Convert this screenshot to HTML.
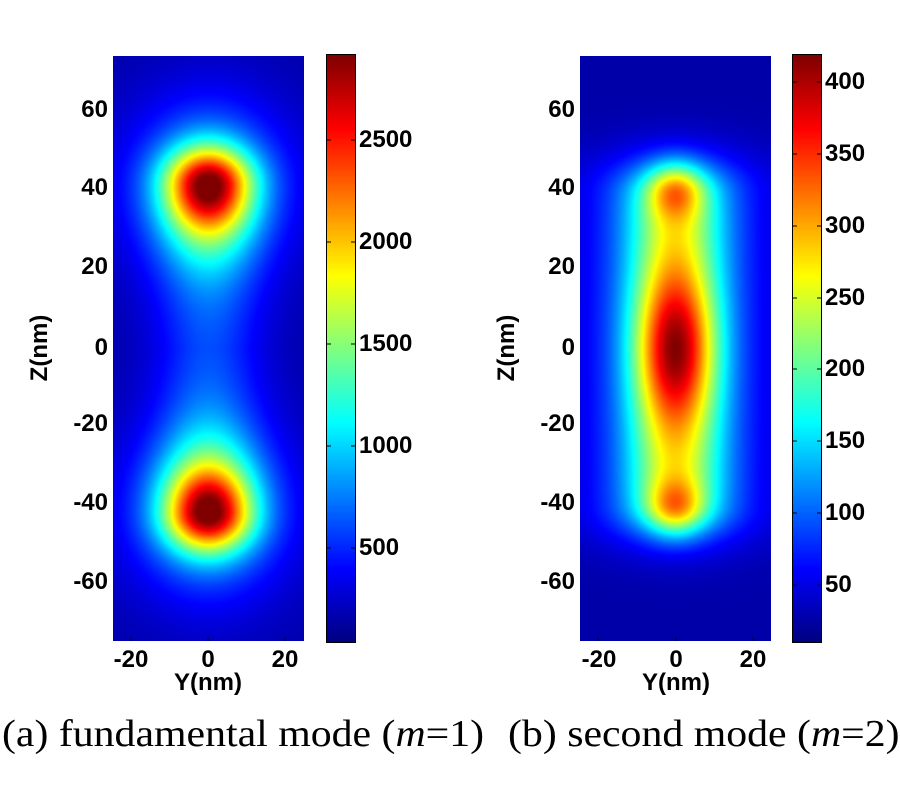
<!DOCTYPE html>
<html><head><meta charset="utf-8"><style>
body{margin:0;background:#fff;width:900px;height:800px;overflow:hidden;position:relative;font-family:"Liberation Sans",Arial,sans-serif}
canvas{position:absolute}
.t{position:absolute;font-weight:bold;font-size:24px;line-height:24px;white-space:nowrap}
.r{text-align:right;width:60px}
.c{text-align:center;width:60px}
.cap{position:absolute;font-family:"Liberation Serif",serif;font-size:38px;top:712px;white-space:nowrap;transform-origin:0 0;transform:scaleX(1.1)}
</style></head><body>
<canvas id="a" width="191" height="585" style="left:113px;top:56px"></canvas>
<canvas id="ca" width="28" height="587" style="left:327px;top:55px;outline:1px solid #000"></canvas>
<canvas id="b" width="191" height="585" style="left:580px;top:56px"></canvas>
<canvas id="cb" width="28" height="587" style="left:793px;top:55px;outline:1px solid #000"></canvas>
<svg width="900" height="800" style="position:absolute;left:0;top:0">
<g stroke="#000" stroke-width="1">
<line x1="131" y1="641" x2="131" y2="637"/><line x1="208" y1="641" x2="208" y2="637"/><line x1="285" y1="641" x2="285" y2="637"/>
<line x1="598" y1="641" x2="598" y2="637"/><line x1="676" y1="641" x2="676" y2="637"/><line x1="753" y1="641" x2="753" y2="637"/>
</g>
</svg>
<div id="lab"></div>
<div class="t" style="left:0;top:336px;width:80px;transform:rotate(-90deg);text-align:center">Z(nm)</div>
<div class="t" style="left:467px;top:336px;width:80px;transform:rotate(-90deg);text-align:center">Z(nm)</div>
<div class="t c" style="left:168px;top:671px;width:80px">Y(nm)</div>
<div class="t c" style="left:636px;top:671px;width:80px">Y(nm)</div>
<div class="cap" style="left:2px">(a) fundamental mode (<i>m</i>=1)</div>
<div class="cap" style="left:508px">(b) second mode (<i>m</i>=2)</div>
<script>
function jet(v){v=Math.max(0,Math.min(1,v));function f(x){return Math.max(0,Math.min(1,x))}
return [f(1.5-Math.abs(4*v-3))*255,f(1.5-Math.abs(4*v-2))*255,f(1.5-Math.abs(4*v-1))*255];}
function draw(id,fn){var c=document.getElementById(id),x=c.getContext('2d'),W=c.width,H=c.height,im=x.createImageData(W,H);
for(var j=0;j<H;j++){var z=75-j*150/H;for(var i=0;i<W;i++){var y=-24.7+i*49.7/W;var v=fn(y,z),col=jet(v),k=(j*W+i)*4;im.data[k]=col[0];im.data[k+1]=col[1];im.data[k+2]=col[2];im.data[k+3]=255;}}
x.putImageData(im,0,0);}
function G(a,s){return Math.exp(-a*a/(2*s*s))}
function m1(y,z){var s=z>=0?1:-1,dz=z-42*s,inw=dz*s<0;var v=0.04;
v+=0.42*G(Math.hypot(y,dz),7.5);
v+=0.32*G(y,8.5)*(inw?G(dz,14):G(dz,6));
v+=0.22*G(Math.hypot(y,dz),15.5);
v+=0.15*G(y,10)*G(z,30);
return Math.min(v,1);}
function m2(y,z){var v=0.04,az=Math.abs(z);
var rodz=1/(1+Math.exp((az-44)/3));
v+=0.38*G(y,8.5)*rodz;
v+=0.38*G(y,7)*G(z,13);
v+=0.25*G(Math.hypot(y,az-41),5);
v+=0.2*G(y,16)*G(Math.max(az-40,0),8);
return Math.min(v,1);}
draw('a',m1);draw('b',m2);
function cbar(id){var c=document.getElementById(id),x=c.getContext('2d');for(var j=0;j<c.height;j++){var col=jet(1-j/c.height);x.fillStyle='rgb('+col.map(Math.round).join(',')+')';x.fillRect(0,j,c.width,1);}}
cbar('ca');cbar('cb');
var L=document.getElementById('lab'),h='';
function lbl(x,y,t,cls){h+='<div class="t '+cls+'" style="left:'+x+'px;top:'+(y-12)+'px">'+t+'</div>';}
var zt=[[60,110],[40,188],[20,267],[0,348],[-20,424],[-40,503],[-60,582]];
zt.forEach(function(p){lbl(48,p[1],p[0],'r');lbl(515,p[1],p[0],'r');});
[[-20,131],[0,208],[20,285]].forEach(function(p){lbl(p[1]-30,660,p[0],'c');lbl(p[1]+468-30,660,p[0],'c');});
[[2500,140],[2000,242],[1500,344],[1000,446],[500,548]].forEach(function(p){lbl(359,p[1],p[0],'');});
[[400,82],[350,154],[300,226],[250,298],[200,369],[150,441],[100,513],[50,585]].forEach(function(p){lbl(825,p[1],p[0],'');});
L.innerHTML=h;
var svg=document.querySelector('svg'),s='';
[140,242,344,446,548].forEach(function(y){s+='<line x1="327" x2="331" y1="'+y+'" y2="'+y+'" stroke="#000"/><line x1="351" x2="355" y1="'+y+'" y2="'+y+'" stroke="#000"/>';});
[82,154,226,298,369,441,513,585].forEach(function(y){s+='<line x1="793" x2="797" y1="'+y+'" y2="'+y+'" stroke="#000"/><line x1="817" x2="821" y1="'+y+'" y2="'+y+'" stroke="#000"/>';});
svg.innerHTML+=s;
</script>
</body></html>
